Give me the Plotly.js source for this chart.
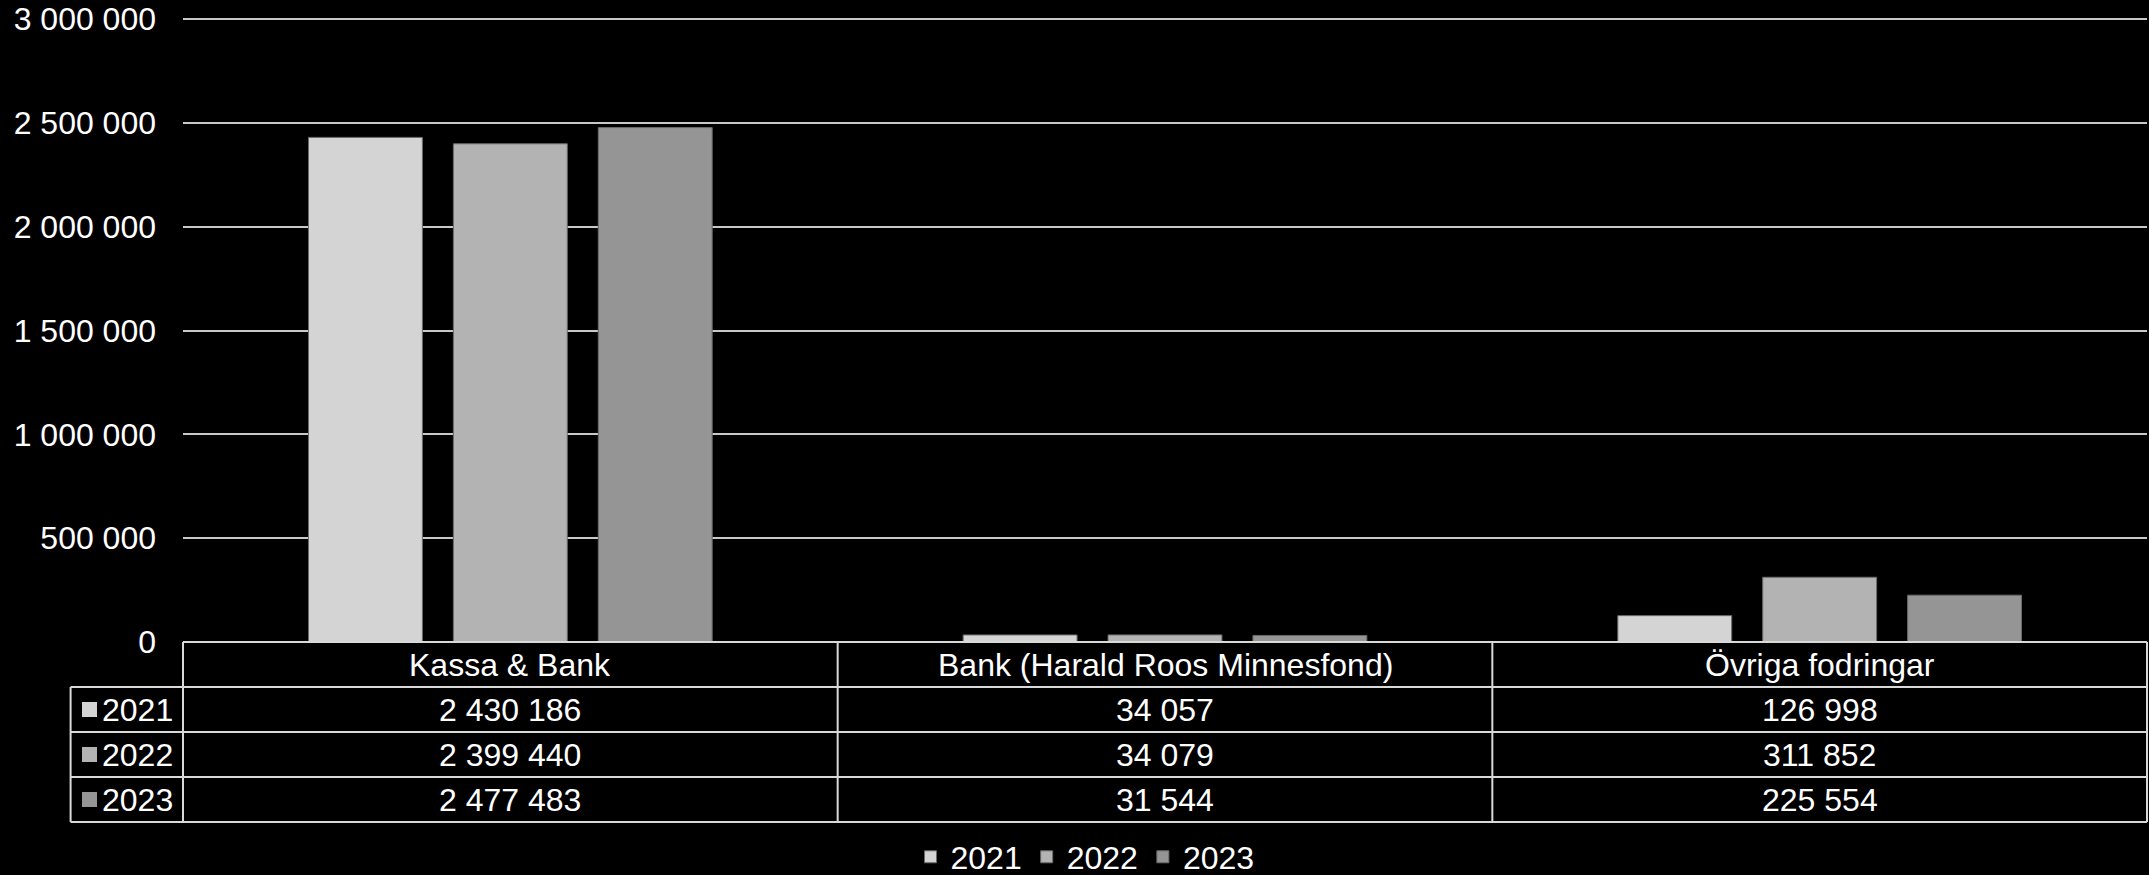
<!DOCTYPE html>
<html>
<head>
<meta charset="utf-8">
<script src="https://cdn.plot.ly/plotly-3.0.1.min.js"></script>
<style>html,body{margin:0;padding:0;background:#000;}#chart{width:2149px;height:875px;}</style>
</head>
<body>
<div id="chart"></div>
<script>
const categories = ['Kassa & Bank', 'Bank (Harald Roos Minnesfond)', 'Övriga fodringar'];
const years = ['2021', '2022', '2023'];
const values2021 = [2430186, 34057, 126998];
const values2022 = [2399440, 34079, 311852];
const values2023 = [2477483, 31544, 225554];
const seriesValues = [values2021, values2022, values2023];
const seriesColors = ['#d4d4d4', '#b3b3b3', '#959595'];
const yTickVals = [0, 500000, 1000000, 1500000, 2000000, 2500000, 3000000];

const FONT = 'Liberation Sans, Arial, sans-serif';
const FS = 32;
const W = 2149, H = 875;
const ML = 183, MR = 2, MT = 17, MB = 233;
const PW = W - ML - MR, PH = H - MT - MB;
const px2x = p => (p - ML) / PW;
const px2y = p => (H - MB - p) / PH;
const fmt = v => String(v).replace(/\B(?=(\d{3})+(?!\d))/g, ' ');

const traces = years.map((yr, i) => ({
  type: 'bar',
  name: yr,
  x: categories,
  y: seriesValues[i],
  marker: {color: seriesColors[i], line: {color: '#6a6a6a', width: 1}},
  hoverinfo: 'skip'
}));

// table geometry (pixels)
const tableTop = H - MB;          // 642
const rowH = 45;
const headerBottom = tableTop + rowH;
const rowBottoms = [1, 2, 3].map(k => headerBottom + k * rowH);
const tableBottom = rowBottoms[2];
const leftColX = 70.6;
const lineStyle = {color: '#d9d9d9', width: 2};

const shapes = [];
shapes.push({type: 'line', xref: 'paper', yref: 'paper', x0: 0, x1: 1, y0: px2y(tableTop), y1: px2y(tableTop), line: lineStyle});
[headerBottom, ...rowBottoms].forEach(yy => {
  shapes.push({type: 'line', xref: 'paper', yref: 'paper', x0: px2x(leftColX), x1: 1, y0: px2y(yy), y1: px2y(yy), line: lineStyle});
});
shapes.push({type: 'line', xref: 'paper', yref: 'paper', x0: px2x(leftColX), x1: px2x(leftColX), y0: px2y(headerBottom), y1: px2y(tableBottom), line: lineStyle});
[0, 1, 2, 3].forEach(k => {
  const xp = k / categories.length;
  shapes.push({type: 'line', xref: 'paper', yref: 'paper', x0: xp, x1: xp, y0: px2y(tableTop), y1: px2y(tableBottom), line: lineStyle});
});

const annotations = [];
categories.forEach(c => {
  annotations.push({xref: 'x', yref: 'paper', x: c, y: px2y(tableTop + rowH / 2), text: c, showarrow: false,
    xanchor: 'center', yanchor: 'middle', font: {family: FONT, size: FS, color: '#ffffff'}});
});
years.forEach((yr, i) => {
  const cy = headerBottom + rowH * i + rowH / 2;
  shapes.push({type: 'rect', xref: 'paper', yref: 'paper', x0: px2x(82), x1: px2x(97), y0: px2y(cy - 7.5), y1: px2y(cy + 7.5),
    fillcolor: seriesColors[i], line: {width: 0}});
  annotations.push({xref: 'paper', yref: 'paper', x: px2x(100), y: px2y(cy), text: yr, showarrow: false,
    xanchor: 'left', yanchor: 'middle', font: {family: FONT, size: FS, color: '#ffffff'}});
  categories.forEach((c, j) => {
    annotations.push({xref: 'x', yref: 'paper', x: c, y: px2y(cy), text: fmt(seriesValues[i][j]), showarrow: false,
      xanchor: 'center', yanchor: 'middle', font: {family: FONT, size: FS, color: '#ffffff'}});
  });
});

const layout = {
  width: W, height: H,
  paper_bgcolor: '#000000', plot_bgcolor: '#000000',
  margin: {l: ML, r: MR, t: MT, b: MB, autoexpand: false},
  separators: ', ',
  font: {family: FONT, size: FS, color: '#ffffff'},
  barmode: 'group',
  bargap: 0.336,
  bargroupgap: 0.214,
  showlegend: true,
  legend: {orientation: 'h', x: px2x(1085), xanchor: 'center', y: px2y(857), yanchor: 'middle',
    font: {family: FONT, size: FS, color: '#ffffff'}, bgcolor: 'rgba(0,0,0,0)', itemwidth: 30, tracegroupgap: 0},
  xaxis: {showticklabels: false, showgrid: false, zeroline: false, showline: false, ticks: ''},
  yaxis: {range: [0, 3010000], tickvals: yTickVals, tickformat: ',d', showgrid: true,
    gridcolor: '#c8c8c8', gridwidth: 2, zeroline: false, showline: false, ticks: '',
    ticklabelstandoff: 26, tickfont: {family: FONT, size: FS, color: '#ffffff'}},
  shapes: shapes,
  annotations: annotations
};

Plotly.newPlot('chart', traces, layout, {staticPlot: true, displayModeBar: false});
</script>
</body>
</html>
